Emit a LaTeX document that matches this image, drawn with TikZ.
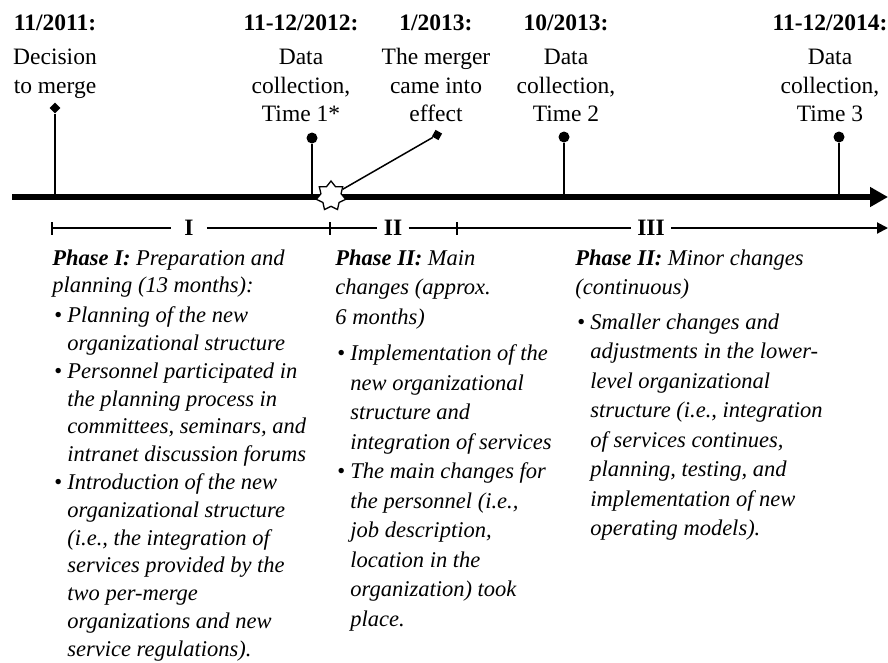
\documentclass[tikz,border=0pt]{standalone}
\usepackage{fontspec}
\setmainfont{Liberation Serif}
\usetikzlibrary{arrows.meta,shapes.geometric}
\newcommand{\itm}{\makebox[15pt][l]{\upshape\hspace{2pt}\textbullet}}
\newcommand{\cnt}{\hspace*{15pt}}

\begin{document}
\begin{tikzpicture}[x=1pt,y=-1pt,thick]
        %
        % `event' is used for the dates and texts above the time line.
        % `dotmark', `diamark' and `sqmark' are the heads of the stems.
        % `phase' is used for the roman numbers, `phasetext' for the blocks.
        \tikzstyle{event} = [align=center,inner sep=0pt,anchor=north,font=\fontsize{23.5}{28.5}\selectfont]
        \tikzstyle{dotmark} = [fill,shape=circle,minimum size=11pt,inner sep=0pt]
        \tikzstyle{diamark} = [fill,shape=diamond,minimum size=11pt,inner sep=0pt]
        \tikzstyle{sqmark} = [fill,shape=rectangle,minimum size=7.5pt,inner sep=0pt,rotate=-29]
        \tikzstyle{stem} = [line width=1.5pt]
        \tikzstyle{phase} = [font=\fontsize{23.5}{28}\selectfont\bfseries,inner ysep=0pt,inner xsep=6pt]
        \tikzstyle{phasetext} = [align=left,inner sep=0pt,anchor=north west]
        %
        \useasboundingbox (0,0) rectangle (888,662);
        %
        % Dates
        \node[event] (e1) at (55,14) {\textbf{11/2011:}\\[6pt]Decision\\to merge};
        \node[event] (e2) at (301,14) {\textbf{11-12/2012:}\\[6pt]Data\\collection,\\Time 1*};
        \node[event] (e3) at (436,14) {\textbf{1/2013:}\\[6pt]The merger\\came into\\effect};
        \node[event] (e4) at (566,14) {\textbf{10/2013:}\\[6pt]Data\\collection,\\Time 2};
        \node[event] (e5) at (830,14) {\textbf{11-12/2014:}\\[6pt]Data\\collection,\\Time 3};
        %
        % Time line
        \coordinate (start) at (12,197);
        \coordinate (end) at (888,197);
        \draw[line width=6pt,-{Triangle[length=18pt,width=19pt]}] (start) -- (end);
        %
        % Stems
        \coordinate (a1) at (55,197);
        \coordinate (a2) at (312,197);
        \coordinate (a4) at (564,197);
        \coordinate (a5) at (839,197);
        \node[diamark] (m1) at (55,108) {} edge [stem] (a1);
        \node[dotmark] (m2) at (312,138) {} edge [stem] (a2);
        \node[dotmark] (m4) at (564,137) {} edge [stem] (a4);
        \node[dotmark] (m5) at (839,137) {} edge [stem] (a5);
        %
        % Merger
        \node[star,star points=7,star point ratio=1.45,draw,fill=white,line width=1.3pt,minimum size=30pt,inner sep=0pt] (m3) at (331,196) {};
        \node[sqmark] (sq) at (437,135) {} edge [stem] (m3);
        %
        % Phases
        \coordinate (p0) at (52,228);
        \node[phase,inner xsep=13pt] (ph1) at (189,228) {I};
        \coordinate (p1) at (330,228);
        \node[phase] (ph2) at (393,228) {II};
        \coordinate (p2) at (457,228);
        \node[phase] (ph3) at (651,228) {III};
        \coordinate (p3) at (888,228);
        \draw[line width=2pt,-{Triangle[length=11pt,width=11pt]}] (p0) -- (ph1) -- (p1) -- (ph2) -- (p2) -- (ph3) -- (p3);
        \foreach \p in {p0,p1,p2}
            \draw[line width=2pt] ([yshift=-6.5pt]\p) -- ([yshift=6.5pt]\p);
        %
        % Phase I
        \node[phasetext,font=\fontsize{22.5}{27.8}\selectfont\itshape] (t1) at (52,249) {\textbf{Phase I:} Preparation and\\planning (13 months):\\[2pt]
        \itm Planning of the new\\\cnt organizational structure\\
        \itm Personnel participated in\\\cnt the planning process in\\\cnt committees, seminars, and\\\cnt intranet discussion forums\\
        \itm Introduction of the new\\\cnt organizational structure\\\cnt (i.e., the integration of\\\cnt services provided by the\\\cnt two per-merge\\\cnt organizations and new\\\cnt service regulations).};
        %
        % Phase II
        \node[phasetext,font=\fontsize{22.5}{29.5}\selectfont\itshape] (t2) at (335,249) {\textbf{Phase II:} Main\\changes (approx.\\6 months)\\[7pt]
        \itm Implementation of the\\\cnt new organizational\\\cnt structure and\\\cnt integration of services\\
        \itm The main changes for\\\cnt the personnel (i.e.,\\\cnt job description,\\\cnt location in the\\\cnt organization) took\\\cnt place.};
        %
        % Phase III
        \node[phasetext,font=\fontsize{22.5}{29.5}\selectfont\itshape] (t3) at (575,249) {\textbf{Phase II:} Minor changes\\(continuous)\\[5pt]
        \itm Smaller changes and\\\cnt adjustments in the lower-\\\cnt level organizational\\\cnt structure (i.e., integration\\\cnt of services continues,\\\cnt planning, testing, and\\\cnt implementation of new\\\cnt operating models).};
        %
\end{tikzpicture}
\end{document}
